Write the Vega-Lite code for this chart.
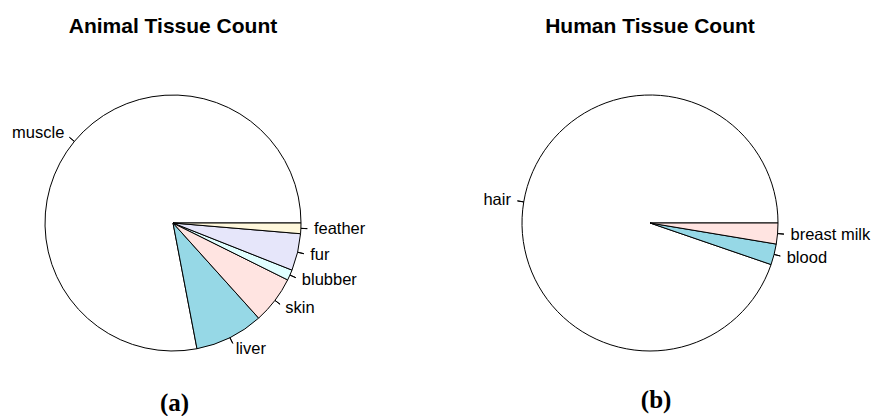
{
  "$schema": "https://vega.github.io/schema/vega-lite/v6.json",
  "background": "white",
  "padding": {"left": 0, "top": 16, "right": 0, "bottom": 0},
  "autosize": {"type": "pad"},
  "spacing": 64,
  "config": {
    "view": {"stroke": null},
    "title": {"font": "Liberation Sans", "fontSize": 21, "fontWeight": "bold", "color": "black", "anchor": "middle"},
    "text": {"font": "Liberation Sans", "fontSize": 16.5, "color": "black", "baseline": "middle"}
  },
  "datasets": {
    "animal": [
      {"id": 1, "tissue": "muscle", "count": 117},
      {"id": 2, "tissue": "liver", "count": 13},
      {"id": 3, "tissue": "skin", "count": 9},
      {"id": 4, "tissue": "blubber", "count": 2},
      {"id": 5, "tissue": "fur", "count": 7},
      {"id": 6, "tissue": "feather", "count": 2}
    ],
    "human": [
      {"id": 1, "tissue": "hair", "count": 36},
      {"id": 2, "tissue": "blood", "count": 1},
      {"id": 3, "tissue": "breast milk", "count": 1}
    ]
  },
  "hconcat": [
    {
      "title": {"text": "(a)", "orient": "bottom", "font": "Liberation Serif", "fontSize": 25, "fontWeight": "bold", "offset": 33, "dx": -8},
      "vconcat": [
        {
          "title": {"text": "Animal Tissue Count", "offset": 54},
          "width": 346,
          "height": 264,
          "data": {"name": "animal"},
          "transform": [
            {"stack": "count", "groupby": [], "sort": [{"field": "id", "order": "descending"}], "as": ["t0", "t1"]},
            {"calculate": "(datum.t0 + datum.t1) / 2", "as": "tm"}
          ],
          "layer": [
            {
              "mark": {"type": "arc", "radius": 128, "stroke": "black", "strokeWidth": 1},
              "encoding": {
                "theta": {"field": "t0", "type": "quantitative", "scale": {"domain": [0, 150], "range": [1.5707963, 7.8539816], "nice": false, "zero": true}},
                "theta2": {"field": "t1"},
                "color": {"field": "tissue", "type": "nominal", "legend": null,
                  "scale": {"domain": ["muscle", "liver", "skin", "blubber", "fur", "feather"],
                            "range": ["#FFFFFF", "#96D8E6", "#FFE4E1", "#E0FFFF", "#E6E6FA", "#FFF8DC"]}}
              }
            },
            {
              "mark": {"type": "arc", "radius": 134.4, "radius2": 128, "filled": false, "stroke": "black", "strokeWidth": 1},
              "encoding": {
                "theta": {"field": "tm", "type": "quantitative"},
                "theta2": {"field": "tm"}
              }
            },
            {
              "transform": [{"filter": "datum.tissue != 'muscle'"}],
              "mark": {"type": "text", "radius": 141, "align": "left"},
              "encoding": {
                "theta": {"field": "tm", "type": "quantitative"},
                "text": {"field": "tissue"}
              }
            },
            {
              "transform": [{"filter": "datum.tissue == 'muscle'"}],
              "mark": {"type": "text", "radius": 141, "align": "right"},
              "encoding": {
                "theta": {"field": "tm", "type": "quantitative"},
                "text": {"field": "tissue"}
              }
            }
          ]
        }
      ]
    },
    {
      "title": {"text": "(b)", "orient": "bottom", "font": "Liberation Serif", "fontSize": 25, "fontWeight": "bold", "offset": 33, "dx": 6},
      "vconcat": [
        {
          "title": {"text": "Human Tissue Count", "offset": 54},
          "width": 440,
          "height": 264,
          "data": {"name": "human"},
          "transform": [
            {"stack": "count", "groupby": [], "sort": [{"field": "id", "order": "descending"}], "as": ["t0", "t1"]},
            {"calculate": "(datum.t0 + datum.t1) / 2", "as": "tm"}
          ],
          "layer": [
            {
              "mark": {"type": "arc", "radius": 128, "stroke": "black", "strokeWidth": 1},
              "encoding": {
                "theta": {"field": "t0", "type": "quantitative", "scale": {"domain": [0, 38], "range": [1.5707963, 7.8539816], "nice": false, "zero": true}},
                "theta2": {"field": "t1"},
                "color": {"field": "tissue", "type": "nominal", "legend": null,
                  "scale": {"domain": ["hair", "blood", "breast milk"],
                            "range": ["#FFFFFF", "#96D8E6", "#FFE4E1"]}}
              }
            },
            {
              "mark": {"type": "arc", "radius": 134.4, "radius2": 128, "filled": false, "stroke": "black", "strokeWidth": 1},
              "encoding": {
                "theta": {"field": "tm", "type": "quantitative"},
                "theta2": {"field": "tm"}
              }
            },
            {
              "transform": [{"filter": "datum.tissue != 'hair'"}],
              "mark": {"type": "text", "radius": 141, "align": "left"},
              "encoding": {
                "theta": {"field": "tm", "type": "quantitative"},
                "text": {"field": "tissue"}
              }
            },
            {
              "transform": [{"filter": "datum.tissue == 'hair'"}],
              "mark": {"type": "text", "radius": 141, "align": "right"},
              "encoding": {
                "theta": {"field": "tm", "type": "quantitative"},
                "text": {"field": "tissue"}
              }
            }
          ]
        }
      ]
    }
  ]
}
